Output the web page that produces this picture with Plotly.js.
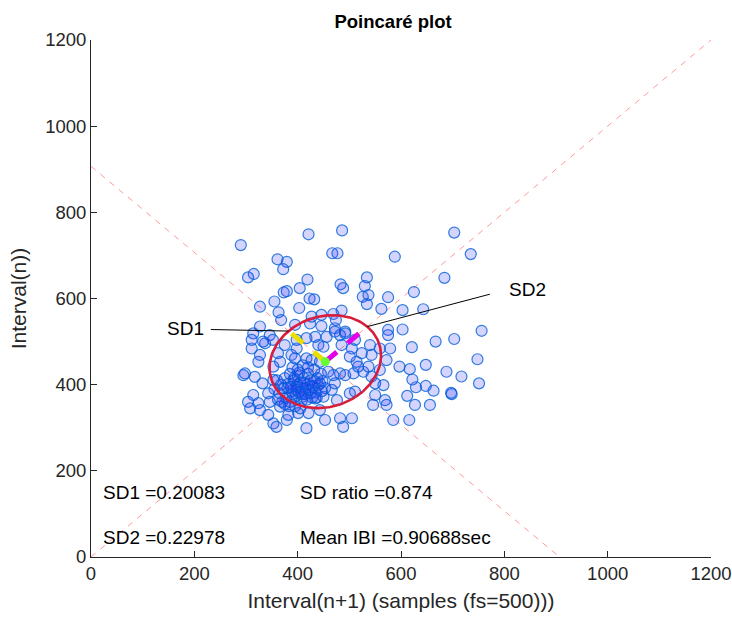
<!DOCTYPE html>
<html>
<head>
<meta charset="utf-8">
<script src="https://cdn.plot.ly/plotly-3.0.1.min.js"></script>
<style>html,body{margin:0;padding:0;background:#fff;}#chart{width:732px;height:621px;}</style>
</head>
<body>
<div id="chart"></div>
<script>
// Interval(n+1) values (x) and Interval(n) values (y), in samples
const intervalNext = [
290,421,486,467,477,361,379,372,304,315,419,534,588,379,373,404,483,488,530,526,537,534,575,562,423,432,355,403,327,363,368,427,446,469,485,474,446,424,395,492,472,327,575,314,346,
703,735,684,625,643,603,603,756,703,667,621,648,748,597,617,688,717,622,751,629,648,663,698,697,612,627,656,616,
311,337,327,324,298,317,332,314,304,308,324,327,343,353,359,379,382,401,417,443,453,421,476,482,488,505,501,511,466,472,482,492,508,527,537,517,514,501,524,505,485,482,472,492,511,540,543,559,575,579,572,559,543,550,566,550,569,572,585,546,440,450,456,417,434,398,398,375,362,366,353,388,395,417,427,443,459,469,353,343,346,366,453,450,434,443,
311,333,352,295,
365,372,378,382,388,392,395,398,400,402,405,408,410,412,415,418,420,422,425,428,430,432,435,438,440,445,448,375,385,395,405,368,375,385,390,400,410,420,380,390,400,410,415,425,397,407,413,387,362,370,383,393,403,427,433,418,437,447,355,360
];
const intervalPrev = [
724,749,758,705,705,691,685,668,649,657,644,649,697,617,614,624,633,624,629,604,608,587,603,576,600,598,593,578,581,568,550,558,562,564,572,550,536,542,539,523,531,535,527,519,515,
753,703,648,615,575,573,528,525,506,500,487,446,459,442,436,430,419,412,403,394,397,386,378,381,374,353,353,318,
484,496,469,453,426,418,403,376,360,345,357,341,330,310,302,318,330,334,299,341,318,334,364,322,302,322,380,384,388,403,426,422,426,430,442,442,453,465,473,484,492,515,523,519,504,492,469,484,515,484,457,434,419,403,399,376,364,353,318,353,492,488,511,508,511,504,484,492,473,453,442,469,461,461,457,453,430,422,411,380,360,349,392,372,368,403,
504,500,504,422,
380,392,370,402,385,410,372,395,420,382,405,362,390,415,378,400,425,388,410,370,395,435,382,415,398,425,408,355,360,350,345,400,415,425,440,435,445,440,392,378,400,372,392,380,388,378,405,395,365,360,350,415,428,398,408,365,370,385,390,410
];

// Summary statistics (seconds) and sampling rate
const fs = 500;
const sd1Sec = 0.20083;
const sd2Sec = 0.22978;
const sdRatio = 0.874;
const meanIBISec = 0.90688;

// Derived geometry in samples
const meanS = meanIBISec * fs;
const sd1S = sd1Sec * fs;
const sd2S = sd2Sec * fs;
const r2 = Math.SQRT1_2;

// ellipse
const ex = [], ey = [];
for (let i = 0; i <= 200; i++) {
  const t = 2 * Math.PI * i / 200;
  const a = sd2S * Math.cos(t), b = sd1S * Math.sin(t);
  ex.push(meanS + a * r2 - b * r2);
  ey.push(meanS + a * r2 + b * r2);
}
// coloured SD axis segments (length, samples)
const sdSegLen = 92;
const sd1End = [meanS - sdSegLen * r2, meanS + sdSegLen * r2];
const sd2End = [meanS + sdSegLen * r2, meanS + sdSegLen * r2];
const sd1True = [meanS - sd1S * r2, meanS + sd1S * r2];
const sd2True = [meanS + sd2S * r2, meanS + sd2S * r2];

// label positions (data units)
const sd1LabelPos = [143, 531];
const sd1LeaderStart = [232, 528];
const sd2LabelPos = [805, 620];
const sd2LeaderStart = [772, 610];

const textX = [20, 20, 400, 400];
const textY = [150, 45, 150, 45];
const textLabels = ['SD1 =' + sd1Sec, 'SD2 =' + sd2Sec, 'SD ratio =' + sdRatio, 'Mean IBI =' + meanIBISec + 'sec'];

const axMax = 1200;
const ticks = [0, 200, 400, 600, 800, 1000, 1200];

const traces = [
  { x: [0, axMax], y: [0, axMax], mode: 'lines', line: { color: 'rgba(255,110,110,0.7)', width: 1, dash: '6px,6px' }, hoverinfo: 'skip' },
  { x: [0, 2 * meanS], y: [2 * meanS, 0], mode: 'lines', line: { color: 'rgba(255,110,110,0.7)', width: 1, dash: '6px,6px' }, hoverinfo: 'skip' },
  { x: intervalNext, y: intervalPrev, mode: 'markers', type: 'scatter',
    marker: { size: 11, color: 'rgba(40,40,255,0.2)', line: { color: 'rgba(0,95,215,0.8)', width: 1.2 } } },
  { x: ex, y: ey, mode: 'lines', line: { color: '#d81e3c', width: 2.6 }, hoverinfo: 'skip' },
  { x: [meanS, sd1End[0]], y: [meanS, sd1End[1]], mode: 'lines', line: { color: '#e8e000', width: 5, dash: '15px,14px' } },
  { x: [meanS, sd2End[0]], y: [meanS, sd2End[1]], mode: 'lines', line: { color: '#e600e6', width: 5, dash: '15px,14px' } },
  { x: [meanS], y: [meanS], mode: 'markers', marker: { size: 9, color: '#66ff33', symbol: 'circle' } },
  { x: [sd1LeaderStart[0], sd1True[0]], y: [sd1LeaderStart[1], sd1True[1]], mode: 'lines', line: { color: '#000', width: 1 } },
  { x: [sd2LeaderStart[0], sd2True[0]], y: [sd2LeaderStart[1], sd2True[1]], mode: 'lines', line: { color: '#000', width: 1 } }
];

const FAM = 'Liberation Sans, Arial, Helvetica, sans-serif';
const annFont = { family: FAM, size: 19, color: '#000' };
const annotations = textLabels.map((t, i) => ({
  x: textX[i], y: textY[i], xref: 'x', yref: 'y', text: t, showarrow: false,
  xanchor: 'left', yanchor: 'middle', font: annFont
}));
annotations.push({ x: sd1LabelPos[0], y: sd1LabelPos[1], xref: 'x', yref: 'y', text: 'SD1', showarrow: false, xanchor: 'left', yanchor: 'middle', font: annFont });
annotations.push({ x: sd2LabelPos[0], y: sd2LabelPos[1], xref: 'x', yref: 'y', text: 'SD2', showarrow: false, xanchor: 'left', yanchor: 'middle', font: annFont });

const axisCommon = {
  range: [0, axMax], tickvals: ticks, ticktext: ticks.map(String),
  ticks: 'inside', ticklen: 6, tickcolor: '#262626', tickwidth: 1,
  showline: true, linecolor: '#262626', linewidth: 1, showgrid: false, zeroline: false,
  tickfont: { family: FAM, size: 18.5, color: '#262626' }
};

const layout = {
  width: 732, height: 621,
  margin: { l: 91, r: 21, t: 40, b: 64 },
  paper_bgcolor: '#fff', plot_bgcolor: '#fff',
  showlegend: false,
  title: { text: '<b>Poincaré plot</b>', font: { family: FAM, size: 18.5, color: '#000' }, x: 0.537, xanchor: 'center', y: 0.965, yanchor: 'middle', xref: 'container' },
  xaxis: Object.assign({}, axisCommon, { title: { text: 'Interval(n+1) (samples (fs=500)))', font: { family: FAM, size: 21, color: '#262626' }, standoff: 10 } }),
  yaxis: Object.assign({}, axisCommon, { title: { text: 'Interval(n))', font: { family: FAM, size: 21, color: '#262626' }, standoff: 12 } }),
  annotations: annotations
};

Plotly.newPlot('chart', traces, layout, { displayModeBar: false, staticPlot: true });
</script>
</body>
</html>
